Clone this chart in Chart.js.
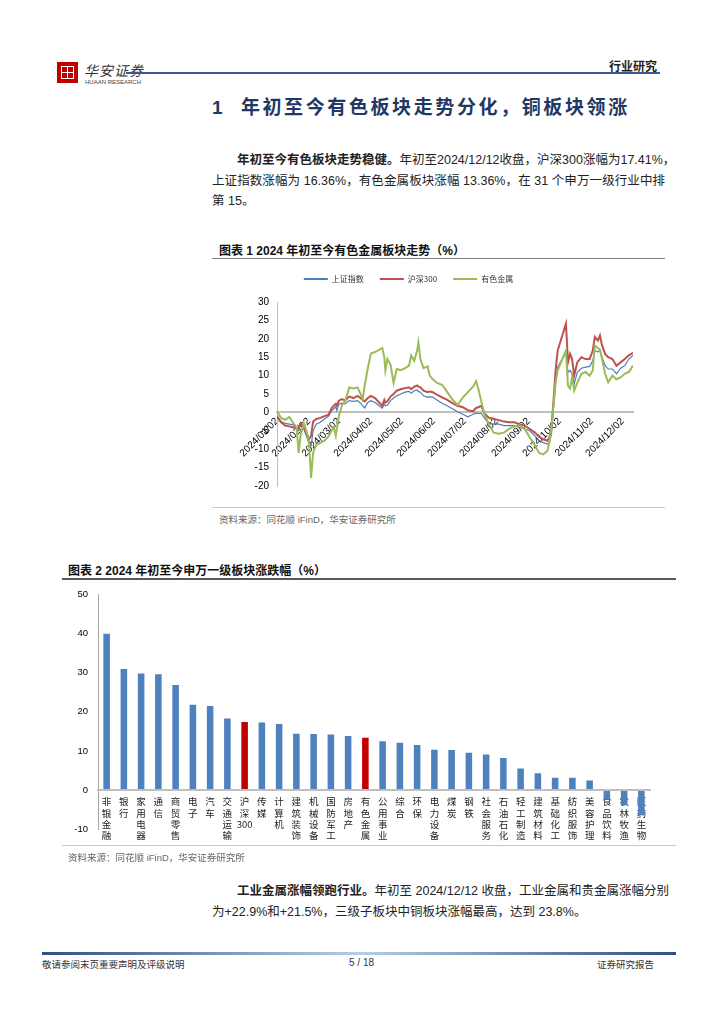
<!DOCTYPE html>
<html>
<head>
<meta charset="utf-8">
<script src="https://cdn.jsdelivr.net/npm/chart.js@4.4.1/dist/chart.umd.min.js"></script>
<style>
  html, body { margin: 0; padding: 0; background: #fff; }
  body { width: 724px; height: 1024px; position: relative; overflow: hidden;
         font-family: "Liberation Sans", "Noto Sans CJK SC", sans-serif; color: #222; }
  .abs { position: absolute; }
  .cjk { font-family: "Liberation Sans", "Noto Sans CJK SC", sans-serif; }
  .para { font-size: 12.5px; color: #222; }
  .para div { height: 20.5px; line-height: 20.5px; text-align: justify; text-align-last: justify; white-space: nowrap; }
  .para div.last { text-align-last: left; }
  .caption { font-size: 12px; font-weight: bold; color: #111; }
  .source { font-size: 9.5px; color: #666; }
</style>
</head>
<body>

<!-- header -->
<div class="abs" style="left:57px;top:62px;width:21px;height:21px;background:#c00000;"></div>
<div class="abs" style="left:61px;top:66px;width:11px;height:11px;border:1px solid #fff;"></div>
<div class="abs" style="left:67px;top:66px;width:1px;height:13px;background:#fff;"></div>
<div class="abs" style="left:61px;top:72px;width:13px;height:1px;background:#fff;"></div>
<div class="abs cjk" style="left:84px;top:60px;font-size:14px;color:#333;letter-spacing:1px;font-style:italic;">华安证券</div>
<div class="abs" style="left:85px;top:79px;font-size:6px;color:#444;">HUAAN RESEARCH</div>
<div class="abs" style="left:126px;top:72px;width:534px;height:2px;background:#3a5a96;"></div>
<div class="abs cjk" style="left:609px;top:57px;font-size:12px;font-weight:bold;color:#222;">行业研究</div>

<!-- section title -->
<div class="abs cjk" style="left:212px;top:92px;font-size:19px;font-weight:bold;color:#1f3864;letter-spacing:2.6px;">1&nbsp; 年初至今有色板块走势分化，铜板块领涨</div>

<!-- paragraph 1 -->
<div class="abs para" style="left:212px;top:150px;width:453px;">
  <div style="margin-left:25px;"><b>年初至今有色板块走势稳健。</b>年初至2024/12/12收盘，沪深300涨幅为17.41%，</div>
  <div>上证指数涨幅为 16.36%，有色金属板块涨幅 13.36%，在 31 个申万一级行业中排</div>
  <div class="last">第 15。</div>
</div>

<!-- chart 1 -->
<div class="abs caption" style="left:219px;top:241px;">图表 1 2024 年初至今有色金属板块走势（%）</div>
<div class="abs" style="left:212px;top:258px;width:453px;height:1px;background:#808080;"></div>
<canvas id="trendChart" class="abs" style="left:230px;top:259px;" width="420" height="241"></canvas>
<div class="abs" style="left:212px;top:507px;width:453px;height:1px;background:#c8c8c8;"></div>
<div class="abs source" style="left:219px;top:512px;">资料来源：同花顺 iFinD，华安证券研究所</div>

<!-- chart 2 -->
<div class="abs caption" style="left:68px;top:561px;">图表 2 2024 年初至今申万一级板块涨跌幅（%）</div>
<div class="abs" style="left:62px;top:578px;width:614px;height:1.5px;background:#595959;"></div>
<canvas id="industryChart" class="abs" style="left:50px;top:579px;" width="610" height="270"></canvas>
<div class="abs" style="left:62px;top:845px;width:614px;height:1px;background:#c8c8c8;"></div>
<div class="abs source" style="left:68px;top:850px;">资料来源：同花顺 iFinD，华安证券研究所</div>

<!-- paragraph 2 -->
<div class="abs para" style="left:212px;top:881px;width:453px;">
  <div style="margin-left:25px;"><b>工业金属涨幅领跑行业。</b>年初至 2024/12/12 收盘，工业金属和贵金属涨幅分别</div>
  <div class="last">为+22.9%和+21.5%，三级子板块中铜板块涨幅最高，达到 23.8%。</div>
</div>

<!-- footer -->
<div class="abs" style="left:42px;top:952px;width:634px;height:3px;background:linear-gradient(to right,#2c4f86,#b8cde6 50%,#2c4f86);"></div>
<div class="abs cjk" style="left:42px;top:957px;font-size:9.5px;color:#333;">敬请参阅末页重要声明及评级说明</div>
<div class="abs" style="left:349px;top:957px;font-size:10px;color:#333;">5 / 18</div>
<div class="abs cjk" style="left:597px;top:957px;font-size:9.5px;color:#333;">证券研究报告</div>

<script>
// ---- chart 1: YTD trend (days since 2024/01/02, %)
const days = [0, 4, 8, 12, 16, 19, 21, 23, 26, 29, 31, 33, 35, 38, 42, 46, 50, 53, 55, 57, 58, 60, 63, 66, 70, 74,
  78, 81, 83, 85, 88, 91, 95, 99, 102, 104, 105, 107, 110, 113, 116, 120, 124, 128, 130, 133, 136, 137, 139, 142,
  146, 148, 151, 155, 160, 165, 170, 175, 180, 185, 190, 193, 195, 198, 201, 205, 210, 215, 220, 225, 230, 235,
  240, 245, 250, 254, 258, 262, 264, 266, 268, 270, 272, 280, 282, 284, 286, 288, 291, 295, 299, 303, 306, 308,
  311, 313, 315, 318, 321, 325, 329, 333, 337, 341, 345];

const shIndex = [-0.9, -2.5, -3.0, -3.2, -3.4, -4.5, -5.0, -2.8, -4.5, -6.8, -8.6, -9.2, -5.0, -3.2, -2.7, -1.8, -1.0,
  0.5, 1.0, 1.5, 0.5, 2.3, 2.5, 2.3, 3.2, 3.0, 3.2, 2.5, 1.8, 1.2, 2.7, 3.2, 2.7, 1.8, 1.2, 2.3, 1.8, 2.0, 3.2, 3.9,
  4.5, 5.0, 5.5, 5.7, 5.2, 5.9, 6.1, 5.7, 5.5, 4.5, 4.1, 4.3, 4.1, 3.4, 2.5, 1.8, 1.0, 0.2, -0.5, -1.2, -0.5, -0.2,
  -0.3, -0.3, -1.5, -3.0, -3.2, -3.2, -3.6, -3.6, -3.6, -4.1, -4.5, -5.0, -6.4, -7.7, -8.2, -8.6, -8.0, -5.9, 1.5,
  8.0, 12.3, 16.4, 10.9, 11.4, 10.5, 7.7, 10.9, 12.0, 12.3, 12.5, 14.0, 16.8, 16.4, 17.0, 15.0, 12.7, 11.8, 11.8,
  10.5, 12.0, 12.7, 14.5, 15.5];

const hs300 = [-1.2, -2.7, -3.6, -3.8, -4.1, -4.4, -4.3, -3.0, -4.1, -5.9, -7.3, -6.4, -2.5, -1.8, -1.5, -1.0, -0.6,
  1.2, 1.8, 2.3, 1.8, 3.2, 3.6, 3.2, 4.3, 3.9, 4.5, 3.9, 3.4, 3.0, 3.9, 4.5, 3.9, 2.7, 1.8, 3.4, 2.7, 3.0, 4.3, 5.0,
  5.9, 6.3, 6.6, 6.8, 6.3, 7.0, 7.3, 7.0, 6.8, 5.9, 5.5, 5.7, 5.5, 4.8, 4.1, 3.4, 2.5, 1.8, 1.4, 0.6, 0.3, 1.2, 1.4,
  1.8, -0.3, -1.4, -1.8, -2.1, -2.5, -2.7, -2.7, -3.2, -3.6, -4.5, -5.5, -6.6, -7.3, -7.7, -6.8, -4.1, 3.2, 11.4,
  16.8, 24.1, 13.6, 15.9, 14.5, 10.0, 13.6, 15.0, 14.5, 14.5, 16.8, 20.5, 19.5, 20.9, 18.2, 15.9, 15.0, 14.5, 12.7,
  13.6, 14.5, 15.5, 16.2];

const nonferrous = [0.3, -1.5, -2.0, -1.2, -3.0, -4.0, -11.0, -6.0, -3.0, -5.5, -8.0, -17.8, -11.0, -8.8, -8.3, -7.7,
  -6.5, -5.0, -4.0, -6.4, -4.5, -1.0, 2.0, 3.0, 6.8, 6.5, 6.8, 5.0, 3.5, 7.3, 12.0, 16.0, 16.4, 17.0, 17.5, 15.0,
  11.4, 14.5, 13.0, 8.0, 11.8, 11.5, 12.0, 12.7, 15.5, 14.0, 17.0, 19.0, 14.5, 12.0, 12.5, 10.0, 9.0, 8.0, 7.5, 5.5,
  3.5, 2.0, 4.0, 5.5, 7.0, 8.5, 6.5, 3.0, -0.5, -3.0, -5.5, -5.8, -5.5, -4.5, -3.8, -3.5, -4.5, -6.8, -9.0, -11.0,
  -11.4, -10.5, -8.0, -4.0, 2.0, 8.0, 11.4, 16.8, 7.3, 6.5, 9.5, 5.9, 8.0, 10.5, 11.0, 10.0, 11.4, 18.2, 17.5, 17.0,
  14.5, 10.5, 8.2, 10.0, 9.0, 9.5, 10.5, 11.0, 12.7];

const monthTicks = [0, 31, 60, 91, 121, 152, 182, 213, 244, 274, 305, 335];
const monthLabels = ["2024/01/02", "2024/02/02", "2024/03/02", "2024/04/02", "2024/05/02", "2024/06/02",
  "2024/07/02", "2024/08/02", "2024/09/02", "2024/10/02", "2024/11/02", "2024/12/02"];

// ---- chart 2: SW level-1 industries YTD change (%)
const industries = ["非银金融", "银行", "家用电器", "通信", "商贸零售", "电子", "汽车", "交通运输", "沪深300", "传媒",
  "计算机", "建筑装饰", "机械设备", "国防军工", "房地产", "有色金属", "公用事业", "综合", "环保", "电力设备", "煤炭",
  "钢铁", "社会服务", "石油石化", "轻工制造", "建筑材料", "基础化工", "纺织服饰", "美容护理", "食品饮料", "农林牧渔",
  "医药生物"];
const industryChange = [40.0, 31.0, 29.8, 29.6, 26.9, 21.8, 21.5, 18.3, 17.41, 17.3, 16.9, 14.4, 14.3, 14.2, 13.8,
  13.36, 12.5, 12.1, 11.5, 10.3, 10.2, 9.5, 9.1, 8.2, 5.5, 4.3, 3.1, 3.1, 2.4, -2.4, -3.9, -6.4];
const highlighted = ["沪深300", "有色金属"];

const axisFont = { family: "'Liberation Sans', Arial, sans-serif", size: 10 };

// taller legend box, nudged left like the original
const legendTweak = {
  id: "legendTweak",
  beforeUpdate(chart) {
    const legend = chart.legend;
    if (legend && !legend._tweaked) {
      const fit = legend.fit;
      legend.fit = function () { fit.call(this); this.height += 9; };
      legend._tweaked = true;
    }
  },
  afterLayout(chart) {
    chart.legend.right -= 46;
    chart.legend.width -= 46;
  },
};

function toPoints(vals) {
  return vals.map((v, i) => ({ x: days[i], y: v }));
}

new Chart(document.getElementById("trendChart"), {
  type: "line",
  data: {
    datasets: [
      { label: "上证指数", data: toPoints(shIndex), borderColor: "#4a7ebb", borderWidth: 1.2, order: 3 },
      { label: "沪深300", data: toPoints(hs300), borderColor: "#c0504d", borderWidth: 2, order: 2 },
      { label: "有色金属", data: toPoints(nonferrous), borderColor: "#9bbb59", borderWidth: 2, order: 1 },
    ],
  },
  plugins: [legendTweak],
  options: {
    responsive: false,
    animation: false,
    layout: { padding: { right: 17, bottom: 8 } },
    elements: { point: { radius: 0 }, line: { tension: 0 } },
    plugins: {
      tooltip: { enabled: false },
      legend: {
        position: "top",
        labels: {
          font: { family: "'Noto Sans CJK SC', sans-serif", size: 8 },
          color: "#333",
          boxWidth: 24,
          boxHeight: 2,
          padding: 16,
          generateLabels: (chart) =>
            chart.data.datasets.map((ds, i) => ({
              text: ds.label,
              fillStyle: ds.borderColor,
              strokeStyle: ds.borderColor,
              lineWidth: 0,
              fontColor: "#333",
              datasetIndex: i,
              hidden: false,
            })),
        },
      },
    },
    scales: {
      x: {
        type: "linear",
        min: 0,
        max: 345,
        position: { y: 0 },
        afterBuildTicks: (scale) => { scale.ticks = monthTicks.map((v) => ({ value: v })); },
        afterFit: (scale) => { scale.height = 0; },
        grid: { display: false, drawTicks: false },
        border: { display: true, color: "#bfbfbf", width: 2 },
        ticks: {
          autoSkip: false,
          minRotation: 45,
          maxRotation: 45,
          padding: 3,
          font: axisFont,
          color: "#000",
          callback: (v, i) => monthLabels[i],
        },
      },
      y: {
        min: -20,
        max: 30,
        afterFit: (scale) => { scale.width = 47; },
        grid: { display: false, drawTicks: false },
        border: { display: true, color: "#bfbfbf", width: 1 },
        ticks: { stepSize: 5, padding: 8, font: axisFont, color: "#000" },
      },
    },
  },
});

new Chart(document.getElementById("industryChart"), {
  type: "bar",
  data: {
    labels: industries.map((name) => name.match(/\d+|./g)),
    datasets: [
      {
        data: industryChange,
        backgroundColor: industries.map((name) => (highlighted.includes(name) ? "#c00000" : "#4f81bd")),
        barPercentage: 0.38,
        categoryPercentage: 1,
      },
    ],
  },
  options: {
    responsive: false,
    animation: false,
    layout: { padding: { top: 8, right: 10, bottom: 20 } },
    plugins: { legend: { display: false }, tooltip: { enabled: false } },
    scales: {
      x: {
        position: { y: 0 },
        afterFit: (scale) => { scale.height = 0; },
        grid: { display: false, drawTicks: false },
        border: { display: true, color: "#bfbfbf", width: 2, z: 1 },
        ticks: {
          autoSkip: false,
          maxRotation: 0,
          minRotation: 0,
          padding: 6,
          font: { family: "'Noto Sans CJK SC', sans-serif", size: 9.5, lineHeight: 1.2 },
          color: "#222",
        },
      },
      y: {
        min: -10,
        max: 50,
        afterFit: (scale) => { scale.width = 48; },
        grid: { display: false, drawTicks: false },
        border: { display: true, color: "#a6a6a6", width: 1 },
        ticks: { stepSize: 10, padding: 10, font: { family: "'Liberation Sans', Arial, sans-serif", size: 9.5 }, color: "#000" },
      },
    },
  },
});
</script>
</body>
</html>
